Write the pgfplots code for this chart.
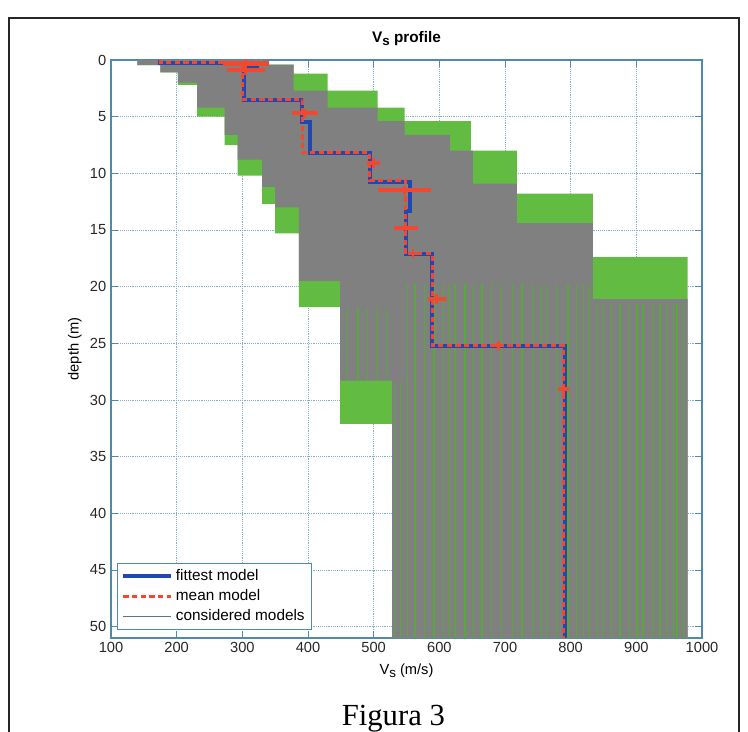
\documentclass[border=0pt]{standalone}
\usepackage{fontspec}
\setmainfont{Liberation Sans}
\newfontfamily\capfont{Liberation Serif}
\usepackage{pgfplots}
\pgfplotsset{compat=1.18}

\definecolor{axcol}{RGB}{78,138,172}
\definecolor{gridcol}{RGB}{130,175,205}
\definecolor{swath}{RGB}{128,128,128}
\definecolor{envgreen}{RGB}{98,188,66}
\definecolor{fitblue}{RGB}{32,72,178}
\definecolor{meanred}{RGB}{242,72,48}
\definecolor{modgray}{RGB}{95,115,130}

\begin{document}
\begin{tikzpicture}
\useasboundingbox (0,0) rectangle (561pt,-548.25pt);
% outer frame of the figure (cut at the bottom)
\draw[line width=1.5pt, black!85] (6.75pt,-560pt) -- (6.75pt,-13.5pt) -- (554.25pt,-13.5pt) -- (554.25pt,-560pt);
\node[anchor=base, font=\capfont\fontsize{23}{26}\selectfont] at (295pt,-543.75pt) {Figura 3};

\begin{axis}[
  at={(83.25pt,-478.5pt)}, anchor=south west,
  width=443.25pt, height=433.5pt, scale only axis,
  xmin=100, xmax=1000, ymin=0, ymax=51,
  y dir=reverse,
  xtick={100,200,...,1000}, ytick={0,5,...,50},
  grid=major,
  major grid style={densely dotted, gridcol, line width=0.6pt},
  axis line style={axcol, line width=0.8pt},
  tick style={axcol, line width=0.6pt},
  major tick length=5pt, tick align=inside,
  ticklabel style={font=\fontsize{11}{13}\selectfont, text=black!85},
  /pgf/number format/assume math mode=true,
  /pgf/number format/1000 sep={},
  title={\bfseries V\raisebox{-0.45ex}{\fontsize{10}{11}\selectfont s} profile},
  title style={at={(0.5,1)}, anchor=base, yshift=7.5pt, font=\fontsize{11.5}{13}\selectfont},
  xlabel={V\raisebox{-0.45ex}{\fontsize{10}{11}\selectfont s} (m/s)},
  xlabel style={at={(axis description cs:0.5,0)}, anchor=base, yshift=-27pt, font=\fontsize{11}{13}\selectfont},
  ylabel={depth (m)},
  ylabel style={at={(axis description cs:-0.061,0.5)}, anchor=center, font=\fontsize{11}{13}\selectfont},
  legend cell align=left,
  legend style={at={(0.01,0.014)}, anchor=south west, draw=axcol, line width=0.6pt,
    font=\fontsize{11.5}{13}\selectfont, row sep=1.2pt, inner sep=3pt},
  legend image code/.code={\draw[#1] (0pt,0pt) -- (36pt,0pt);},
]
% envelope of the considered models
\addplot[fill=envgreen, draw=none, forget plot] coordinates {
(140,0)(140,0.45)(175,0.45)(175,1.1)(202,1.1)(202,2.2)(231,2.2)(231,5.0)(273,5.0)(273,7.5)
(293,7.5)(293,10.2)(330,10.2)(330,12.7)(350,12.7)(350,15.3)(386,15.3)(386,21.8)(449,21.8)
(449,32.1)(528,32.1)(528,51)
(978,51)(978,17.4)(834,17.4)(834,11.8)(718,11.8)(718,8.0)(648,8.0)(648,5.4)(547,5.4)
(547,4.2)(506,4.2)(506,2.7)(430,2.7)(430,1.2)(378,1.2)(378,0.4)(330,0.4)(330,0)
} -- cycle;
% bulk of the considered models
\addplot[fill=swath, draw=none, forget plot] coordinates {
(140,0)(140,0.45)(175,0.45)(175,1.1)(202,1.1)(202,2.0)(231,2.0)(231,4.2)(273,4.2)(273,6.6)
(293,6.6)(293,8.8)(330,8.8)(330,11.2)(350,11.2)(350,13.0)(386,13.0)(386,19.5)(449,19.5)
(449,28.3)(528,28.3)(528,51)
(978,51)(978,21.1)(834,21.1)(834,14.4)(718,14.4)(718,10.9)(651,10.9)(651,8.0)(616,8.0)
(616,6.6)(547,6.6)(547,5.4)(506,5.4)(506,4.2)(430,4.2)(430,2.7)(378,2.7)(378,0.4)(327,0.4)(327,0)
} -- cycle;
% single models showing through in the half-space
\addplot[envgreen!90!black, line width=0.9pt, forget plot, unbounded coords=jump] coordinates {
(460,21.9)(460,28.2)(460,nan) (476,21.9)(476,28.2)(476,nan)
(491,21.9)(491,28.2)(491,nan) (506,21.9)(506,28.2)(506,nan)
(519,21.9)(519,28.2)(519,nan)
(532,28.4)(532,51)(532,nan) (541,28.4)(541,51)(541,nan)
(552,19.8)(552,51)(552,nan)
(563,19.8)(563,51)(563,nan) (578,19.8)(578,51)(578,nan)
(592,19.8)(592,51)(592,nan)
(606,19.8)(606,51)(606,nan) (615,19.8)(615,51)(615,nan) (624,19.8)(624,51)(624,nan)
(639,19.8)(639,51)(639,nan) (652,19.8)(652,51)(652,nan) (665,19.8)(665,51)(665,nan)
(680,19.8)(680,51)(680,nan) (695,19.8)(695,51)(695,nan)
(712,19.8)(712,51)(712,nan) (726,19.8)(726,51)(726,nan) (742,19.8)(742,51)(742,nan)
(755,19.8)(755,51)(755,nan) (763,19.8)(763,51)(763,nan) (778,19.8)(778,51)(778,nan)
(796,19.8)(796,51)(796,nan)
(809,19.8)(809,51)(809,nan) (820,19.8)(820,51)(820,nan) (829,19.8)(829,51)(829,nan)
(841,21.5)(841,51)(841,nan)
(849,21.5)(849,51)(849,nan) (862,21.5)(862,51)(862,nan)
(875,21.5)(875,51)(875,nan) (890,21.5)(890,51)(890,nan)
(901,21.5)(901,51)(901,nan)
(910,21.5)(910,51)(910,nan) (925,21.5)(925,51)(925,nan)
(936,21.5)(936,51)(936,nan)
(947,21.5)(947,51)(947,nan) (956,21.5)(956,51)(956,nan) (962,21.5)(962,51)(962,nan)
(972,21.5)(972,51)
};
% fittest model
\addplot[fitblue, line width=3pt, forget plot] coordinates {
(175,0)(175,0.3)(322,0.3)(322,0.6)(302,0.6)(302,3.5)(391,3.5)(391,5.5)(403,5.5)(403,8.2)
(494,8.2)(494,10.8)(555,10.8)(555,13.3)(549,13.3)(549,17.1)(589,17.1)(589,25.2)(791,25.2)(791,51)
};
% mean model
\addplot[meanred, line width=2.2pt, dash pattern=on 4pt off 2.5pt, forget plot] coordinates {
(175,0)(175,0.25)(300,0.25)(300,3.5)(392,3.5)(392,8.2)(494,8.2)(494,10.6)(548,10.6)
(548,17.1)(589,17.1)(589,25.2)(789,25.2)(789,51)
};
% standard deviation of the mean model
\addplot[color=meanred, line width=3.2pt, forget plot, unbounded coords=jump] coordinates {
(270,0.3)(340,0.3)(340,nan)
(276,0.9)(334,0.9)(334,nan)
(375,4.7)(415,4.7)(415,nan)
(490,9.1)(510,9.1)(510,nan)
(506,11.5)(588,11.5)(588,nan)
(531,14.8)(567,14.8)(567,nan)
(583,21.1)(610,21.1)(610,nan)
(781,29.0)(797,29.0)
};
\addplot[meanred, only marks, mark=+, mark size=3.5pt, mark options={line width=2pt}, forget plot] coordinates {
(305,0.3)(305,0.9)(395,4.7)(500,9.1)(547,11.5)(549,14.8)(560,17.1)(596,21.1)(690,25.2)(789,29.0)
};
\addlegendimage{fitblue, line width=3pt}
\addlegendentry{fittest model}
\addlegendimage{meanred, line width=2.2pt, dash pattern=on 4pt off 2.5pt}
\addlegendentry{mean model}
\addlegendimage{modgray, line width=0.6pt}
\addlegendentry{considered models}
\end{axis}
\end{tikzpicture}
\end{document}
